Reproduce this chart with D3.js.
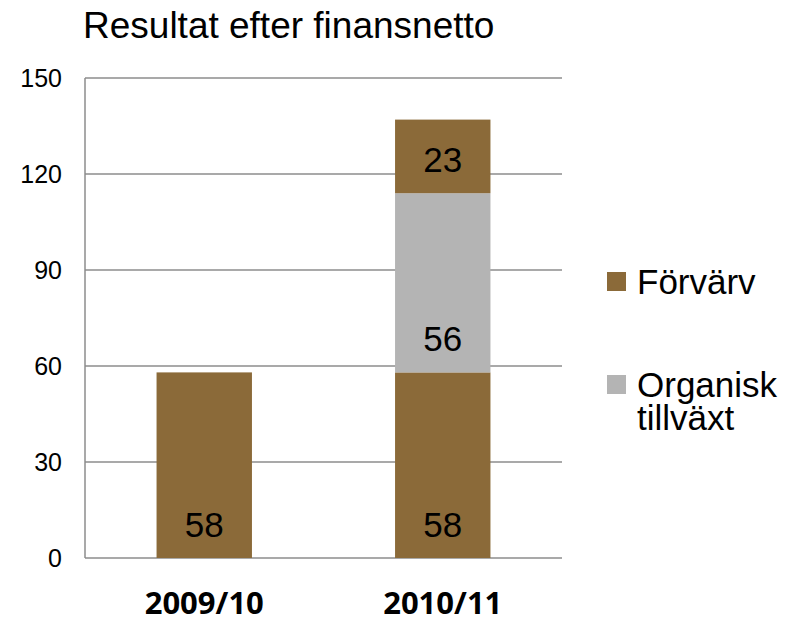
<!DOCTYPE html>
<html>
<head>
<meta charset="utf-8">
<script src="https://cdn.jsdelivr.net/npm/d3@7"></script>
<style>
  body { margin: 0; background: #fff; }
  text { font-family: "Liberation Sans", Arial, sans-serif; fill: #000; }
</style>
</head>
<body>
<div id="wrapper"></div>
<script>
const years = ["2009/10", "2010/11"];
const bas = [58, 58];          // bottom brown segment
const organisk = [0, 56];
const forvarv = [0, 23];
const yTicks = [0, 30, 60, 90, 120, 150];
const legendItems = ["Förvärv", "Organisk tillväxt"];

const brown = "#8b6a39", grey = "#b4b4b4";

const width = 806, height = 624;
const margin = { top: 78, right: 244, bottom: 66, left: 85 };

const svg = d3.select("#wrapper").append("svg")
  .attr("width", width)
  .attr("height", height);

const x = d3.scaleBand()
  .domain(years)
  .range([margin.left, width - margin.right])
  .paddingInner(0.6)
  .paddingOuter(0.3);

const y = d3.scaleLinear()
  .domain([0, 150])
  .range([height - margin.bottom, margin.top]);

// title
svg.append("text")
  .attr("x", 83).attr("y", 38)
  .style("font-size", "37px")
  .text("Resultat efter finansnetto");

// gridlines
svg.append("g").selectAll("line")
  .data(yTicks)
  .join("line")
  .attr("x1", margin.left).attr("x2", width - margin.right)
  .attr("y1", d => y(d)).attr("y2", d => y(d))
  .attr("stroke", "#8c8c8c")
  .attr("stroke-width", 1.5);

svg.append("line")
  .attr("x1", margin.left).attr("x2", margin.left)
  .attr("y1", y(150)).attr("y2", y(0))
  .attr("stroke", "#8c8c8c")
  .attr("stroke-width", 1.5);

// y tick labels
svg.append("g").selectAll("text")
  .data(yTicks)
  .join("text")
  .attr("x", 62)
  .attr("y", d => y(d))
  .attr("dy", "0.36em")
  .attr("text-anchor", "end")
  .style("font-size", "25px")
  .text(d => d);

// stacked data
const rows = years.map((yr, i) => ({ year: yr, bas: bas[i], organisk: organisk[i], forvarv: forvarv[i] }));
const stack = d3.stack().keys(["bas", "organisk", "forvarv"])(rows);
const colors = { bas: brown, organisk: grey, forvarv: brown };

const layers = svg.append("g").selectAll("g")
  .data(stack)
  .join("g")
  .attr("fill", d => colors[d.key]);

layers.selectAll("rect")
  .data(d => d.filter(s => s[1] - s[0] > 0).map(s => ({ s, key: d.key })))
  .join("rect")
  .attr("x", d => x(d.s.data.year))
  .attr("width", x.bandwidth())
  .attr("y", d => y(d.s[1]))
  .attr("height", d => y(d.s[0]) - y(d.s[1]));

layers.selectAll("text")
  .data(d => d.filter(s => s[1] - s[0] > 0).map(s => ({ s, key: d.key })))
  .join("text")
  .attr("x", d => x(d.s.data.year) + x.bandwidth() / 2)
  .attr("y", d => y(d.s[0]) - 21)
  .attr("text-anchor", "middle")
  .style("font-size", "35px")
  .text(d => d.s[1] - d.s[0]);

// category labels
svg.append("g").selectAll("text")
  .data(years)
  .join("text")
  .attr("x", d => x(d) + x.bandwidth() / 2)
  .attr("y", 614)
  .attr("text-anchor", "middle")
  .style("font-family", "'Open Sans', sans-serif")
  .style("font-weight", "bold")
  .style("font-size", "31px")
  .text(d => d);

// legend
const legendColors = [brown, grey];
const legendY = [272, 375];
const lg = svg.append("g").selectAll("g")
  .data(legendItems)
  .join("g")
  .attr("transform", (d, i) => `translate(607,${legendY[i]})`);

lg.append("rect")
  .attr("width", 19).attr("height", 19)
  .attr("fill", (d, i) => legendColors[i]);

lg.selectAll("text")
  .data(d => d.split(" "))
  .join("text")
  .attr("x", 30)
  .attr("y", (d, i) => 22 + i * 33)
  .style("font-size", "35px")
  .text(d => d);
</script>
</body>
</html>
